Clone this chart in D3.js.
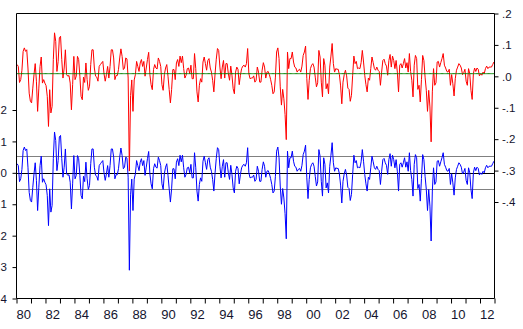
<!DOCTYPE html>
<html>
<head>
<meta charset="utf-8">
<script src="https://cdn.jsdelivr.net/npm/d3@7"></script>
<style>
  html, body { margin: 0; padding: 0; background: #fff; overflow: hidden; }
  svg { display: block; }
  text { font-family: "Liberation Sans", Arial, sans-serif; fill: #14142e; }
</style>
</head>
<body>
<svg id="chart" width="523" height="329"></svg>
<script>
// Monthly sample, 1980M01 - 2012M12
const startYear = 1980;
const endYear = 2013;

// Equation residuals, one row per year (Jan..Dec)
const residual = [
  0.029, 0.023, -0.028, -0.019, 0.011, 0.071, 0.082, 0.071, 0.076, 0.018, -0.062, -0.088,
  -0.093, -0.046, -0.003, 0.032, -0.024, -0.120, -0.046, 0.023, 0.053, -0.030, -0.019, -0.030,
  -0.038, -0.072, -0.168, -0.051, -0.125, -0.104, 0.045, 0.130, 0.103, 0.007, 0.039, 0.114,
  0.119, 0.045, -0.014, 0.018, 0.076, -0.003, -0.008, -0.006, -0.030, -0.115, -0.035, 0.055,
  -0.019, -0.008, 0.055, 0.045, -0.008, -0.072, -0.083, -0.011, -0.028, 0.034, -0.019, -0.053,
  -0.040, 0.029, 0.076, 0.076, 0.018, -0.008, -0.011, -0.024, 0.023, 0.029, 0.034, 0.039,
  0.000, -0.024, -0.003, 0.023, -0.014, 0.023, 0.076, 0.076, 0.050, -0.019, -0.006, -0.006,
  0.013, 0.050, 0.079, 0.055, 0.013, 0.018, 0.050, 0.047, -0.014, -0.310, -0.070, -0.020,
  -0.120, -0.020, -0.003, 0.039, 0.023, 0.007, 0.034, 0.045, 0.023, 0.039, -0.008, 0.018,
  0.045, 0.068, -0.003, -0.035, -0.051, 0.013, 0.029, 0.018, 0.015, 0.050, 0.039, 0.023,
  -0.035, -0.053, -0.003, 0.018, 0.029, -0.008, -0.051, -0.093, -0.051, 0.013, 0.013, -0.019,
  0.034, 0.045, 0.023, 0.056, 0.035, 0.056, 0.016, -0.014, -0.005, 0.016, 0.018, 0.000,
  0.027, -0.016, -0.016, 0.064, 0.016, -0.058, -0.090, -0.037, -0.016, -0.027, 0.037, 0.053,
  0.032, 0.011, 0.042, 0.048, 0.018, 0.005, -0.021, -0.058, 0.000, 0.046, 0.080, 0.074,
  0.021, -0.016, 0.021, 0.042, -0.014, 0.032, 0.032, 0.000, -0.021, 0.024, -0.005, -0.048,
  -0.064, 0.005, 0.021, 0.014, -0.035, -0.005, 0.016, 0.024, 0.027, 0.021, 0.032, 0.080,
  0.000, -0.016, -0.014, -0.014, -0.007, -0.027, -0.021, 0.021, 0.005, -0.027, -0.027, 0.011,
  0.035, 0.021, -0.014, 0.005, 0.007, -0.003, -0.018, -0.037, -0.064, -0.058, -0.011, 0.069,
  0.082, 0.048, -0.042, -0.100, -0.050, -0.080, -0.130, -0.210, 0.069, 0.016, 0.048, 0.048,
  0.069, 0.037, 0.021, 0.018, 0.005, 0.011, 0.014, 0.005, 0.024, 0.058, 0.069, 0.088,
  -0.016, -0.082, -0.021, 0.016, 0.027, 0.032, 0.021, -0.011, -0.042, -0.029, 0.074, 0.053,
  -0.027, -0.074, 0.048, 0.027, -0.048, -0.032, -0.064, 0.021, 0.056, 0.096, 0.032, 0.005,
  0.016, 0.014, 0.014, -0.003, -0.039, -0.096, -0.027, -0.003, 0.011, -0.007, -0.046, -0.050,
  -0.088, -0.069, -0.005, 0.056, 0.032, 0.039, 0.016, 0.018, 0.016, 0.035, 0.074, 0.037,
  -0.005, -0.035, -0.058, -0.014, -0.021, 0.016, 0.053, 0.035, 0.016, 0.011, 0.021, 0.011,
  0.007, -0.037, 0.005, 0.042, 0.046, 0.032, 0.024, -0.005, 0.042, 0.061, 0.021, 0.056,
  0.042, 0.016, 0.042, 0.005, -0.058, 0.027, 0.032, 0.018, 0.032, 0.048, 0.018, 0.035,
  0.005, 0.064, 0.007, -0.021, -0.074, 0.027, 0.058, 0.048, -0.050, -0.037, -0.090, -0.018,
  0.058, 0.042, -0.011, -0.053, -0.120, -0.053, -0.106, -0.217, -0.058, 0.016, -0.037, -0.029,
  0.037, 0.039, 0.021, 0.035, 0.048, 0.064, 0.027, 0.018, 0.007, 0.005, 0.014, -0.037,
  -0.003, -0.032, -0.071, -0.016, 0.011, 0.021, 0.032, 0.027, 0.018, -0.003, 0.003, 0.014,
  -0.024, -0.037, 0.016, 0.000, -0.053, -0.082, 0.000, 0.018, 0.007, 0.018, 0.014, -0.007,
  0.000, -0.005, 0.005, 0.000, 0.016, 0.024, 0.016, 0.021, 0.021, 0.021, 0.029, 0.037
];

// Constant-mean model: fitted value, and residual standard error bands
const fittedLevel = 0.0085;
const residualSE = 0.0525;

// Axis ticks
const leftTicks = [0.2, 0.1, 0.0, -0.1, -0.2, -0.3, -0.4];
const rightTicks = [0.2, 0.1, 0.0, -0.1, -0.2, -0.3, -0.4];
const yearLabels = ["80", "82", "84", "86", "88", "90", "92", "94", "96", "98",
                    "00", "02", "04", "06", "08", "10", "12"];

// Series built from the residuals: actual = fitted + residual
const months = residual.map((r, i) => ({
  t: startYear + (i + 0.5) / 12,
  resid: r,
  actual: fittedLevel + r,
  fitted: fittedLevel
}));

const svg = d3.select("#chart");
const L = 16.5, R = 494.5, T = 13.5, B = 298.5;

const x = d3.scaleLinear().domain([startYear, endYear]).range([L, R]);
// Residual scale (left) and actual/fitted scale (right)
const yLeft = d3.scaleLinear().domain([-0.4, 0.2]).range([B, B - 188.5]);
const yRight = d3.scaleLinear().domain([-0.4, 0.2]).range([202.0, T]);

const fmt = v => {
  const a = Math.round(Math.abs(v) * 10);
  return (v < -1e-9 ? "-" : "") + "." + a;
};

// Residual reference lines: zero and +/- one standard error
const refs = svg.append("g");
[residualSE, -residualSE].forEach(v => {
  refs.append("line")
    .attr("x1", L).attr("x2", R)
    .attr("y1", Math.round(yLeft(v)) + 0.5).attr("y2", Math.round(yLeft(v)) + 0.5)
    .attr("stroke", "#808080").attr("stroke-width", 1);
});
refs.append("line")
  .attr("x1", L).attr("x2", R)
  .attr("y1", Math.round(yLeft(0)) + 0.5).attr("y2", Math.round(yLeft(0)) + 0.5)
  .attr("stroke", "#000").attr("stroke-width", 1);

// Lines
const lineResid = d3.line().x(d => x(d.t)).y(d => yLeft(d.resid));
const lineActual = d3.line().x(d => x(d.t)).y(d => yRight(d.actual));
const lineFitted = d3.line().x(d => x(d.t)).y(d => yRight(d.fitted));

svg.append("path").datum(months)
  .attr("d", lineResid).attr("fill", "none")
  .attr("stroke", "#0000ff").attr("stroke-width", 1).attr("stroke-linejoin", "round");
svg.append("path").datum(months)
  .attr("d", lineActual).attr("fill", "none")
  .attr("stroke", "#ff0000").attr("stroke-width", 1).attr("stroke-linejoin", "round");
svg.append("path").datum(months)
  .attr("d", lineFitted).attr("fill", "none")
  .attr("stroke", "#008000").attr("stroke-width", 1);

// Frame: top edge, left and right axis lines, bottom axis line
const frame = svg.append("g").attr("stroke", "#000").attr("stroke-width", 1);
frame.append("line").attr("x1", L).attr("x2", R).attr("y1", T).attr("y2", T);
frame.append("line").attr("x1", L).attr("x2", L).attr("y1", T).attr("y2", B);
frame.append("line").attr("x1", R).attr("x2", R).attr("y1", T).attr("y2", B);
frame.append("line").attr("x1", L).attr("x2", R).attr("y1", B).attr("y2", B);

// Left axis (residual)
const gl = svg.append("g").attr("transform", `translate(${L},0)`)
  .call(d3.axisLeft(yLeft).tickValues(leftTicks).tickFormat(fmt).tickSize(4).tickPadding(5.5));
gl.select(".domain").remove();
gl.selectAll("text").attr("font-size", 11.5).attr("font-family", null).attr("fill", "#14142e");
gl.selectAll("line").attr("stroke", "#000");

// Right axis (actual / fitted)
const gr = svg.append("g").attr("transform", `translate(${R},0)`)
  .call(d3.axisRight(yRight).tickValues(rightTicks).tickFormat(fmt).tickSize(4).tickPadding(3.5));
gr.select(".domain").remove();
gr.selectAll("text").attr("font-size", 11.5).attr("font-family", null).attr("fill", "#14142e");
gr.selectAll("line").attr("stroke", "#000");

// Bottom axis: a tick at each year boundary, labels every other year
const years = d3.range(startYear, endYear + 1);
const gb = svg.append("g").attr("transform", `translate(0,${B})`)
  .call(d3.axisBottom(x).tickValues(years).tickFormat("").tickSize(5));
gb.select(".domain").remove();
gb.selectAll("line").attr("stroke", "#000");

svg.append("g").selectAll("text").data(yearLabels).join("text")
  .attr("x", (d, i) => x(startYear + 2 * i + 0.5))
  .attr("y", 318.5)
  .attr("text-anchor", "middle")
  .attr("font-size", 13)
  .text(d => d);
</script>
</body>
</html>
